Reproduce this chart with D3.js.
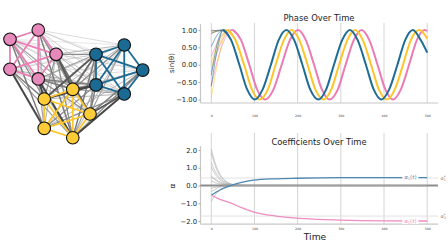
<!DOCTYPE html>
<html>
<head>
<meta charset="utf-8">
<script src="https://cdn.jsdelivr.net/npm/d3@7"></script>
<style>
  body { margin: 0; background: #fff; }
  svg { font-family: "DejaVu Sans", sans-serif; display: block; }
</style>
</head>
<body>
<div id="chart"></div>
<script>
// ---- network data (layout units) ----
const nodeCluster = ["pink","pink","pink","pink","pink",
                     "blue","blue","blue","blue","blue",
                     "yellow","yellow","yellow","yellow","yellow"];
const nodeX = [0, 2.13, 3.47, 0, 2.13,   8.61, 6.48, 10.0, 6.48, 8.61,   4.73, 2.58, 6.03, 2.58, 4.73];
const nodeY = [0.70, 0, 1.83, 2.96, 3.69, 1.13, 1.83, 3.02, 4.14, 4.82, 4.47, 5.20, 6.33, 7.41, 8.12];

// coupling strength between clusters (rows: first cluster's nodes)
const wPinkYellow = [
  [0.40, 0.50, 0.30, 0.60, 0.30],
  [0.50, 0.30, 0.40, 0.20, 0.60],
  [0.80, 0.45, 0.70, 0.30, 0.50],
  [0.30, 0.60, 0.20, 0.90, 0.40],
  [0.60, 0.90, 0.50, 0.40, 0.90]];
const wPinkBlue = [
  [0.10, 0.15, 0.05, 0.20, 0.10],
  [0.15, 0.20, 0.10, 0.10, 0.20],
  [0.30, 0.50, 0.20, 0.30, 0.20],
  [0.05, 0.20, 0.10, 0.30, 0.15],
  [0.20, 0.40, 0.15, 0.60, 0.30]];
const wBlueYellow = [
  [0.50, 0.30, 0.40, 0.20, 0.30],
  [0.70, 0.80, 0.50, 0.40, 0.60],
  [0.30, 0.20, 0.60, 0.30, 0.50],
  [0.80, 0.90, 0.60, 0.50, 0.40],
  [0.40, 0.30, 0.80, 0.50, 0.90]];

const nodeColor = {pink: "#e889bb", blue: "#1b6a93", yellow: "#fccb37"};
const edgeColorIn = {pink: "#ea7fb5", blue: "#1b6a93", yellow: "#fcc62c"};

// ---- phase data: [time, sin(theta)] ----
const timeTicks = [0, 100, 200, 300, 400, 500];
const blueSin = [[28,1],[46,0.71],[65,0],[83,-0.71],[101,-1],[119,-0.71],[138,0],[156,0.71],[174,1],
  [192,0.71],[211,0],[229,-0.71],[248,-1],[266,-0.71],[284,0],[303,0.71],[321,1],[339,0.71],[358,0],
  [376,-0.71],[394,-1],[412,-0.71],[431,0],[449,0.71],[467,1],[485,0.71],[500,0.35]];
const yellowSin = [[38,1],[56,0.71],[76,0],[94,-0.71],[112,-1],[131,-0.71],[149,0],[168,0.71],[186,1],
  [204,0.71],[223,0],[241,-0.71],[260,-1],[278,-0.71],[296,0],[315,0.71],[333,1],[351,0.71],[370,0],
  [388,-0.71],[407,-1],[425,-0.71],[444,0],[462,0.71],[482,1],[500,0.75]];
const pinkSin = [[50,1],[69,0.71],[88,0],[106,-0.71],[125,-1],[144,-0.71],[163,0],[182,0.71],[201,1],
  [219,0.71],[238,0],[256,-0.71],[274,-1],[293,-0.71],[311,0],[330,0.71],[348,1],[366,0.71],[385,0],
  [403,-0.71],[421,-1],[439,-0.71],[458,0],[476,0.71],[494,1],[500,0.97]];
// each node's value at t=0 and at a midpoint before it locks in
const blueStart = [0.97, 0.90, 0.52, -0.30, -0.62];
const blueMid = [0.99, 0.97, 0.86, 0.62, 0.45];
const yellowStart = [-0.95, 0.05, 0.90, 0.96, -0.10];
const yellowMid = [0.30, 0.72, 0.98, 0.99, 0.60];
const pinkStart = [-0.60, 0.25, 1.00, 0.92, -0.20];
const pinkMid = [0.55, 0.85, 0.97, 0.99, 0.70];

// ---- coefficient data ----
const alphaTimes = [0, 20, 43, 70, 97, 150, 197, 250, 300, 400, 500];
const alpha1 = [-0.55, -0.25, -0.02, 0.18, 0.30, 0.38, 0.41, 0.43, 0.44, 0.45, 0.45];
const alpha2 = [-0.55, -0.78, -0.96, -1.25, -1.48, -1.72, -1.84, -1.91, -1.95, -1.99, -2.00];
const alphaStar = [0.42, -1.72];
const greyTimes = [0, 10, 20, 30, 40, 55, 75, 500];
const greyLines = [
  [2.05, 1.20, 0.65, 0.32, 0.15, 0.05, 0.01, 0],
  [1.85, 1.05, 0.55, 0.28, 0.12, 0.04, 0.01, 0],
  [1.30, 0.75, 0.40, 0.20, 0.09, 0.03, 0.01, 0],
  [1.05, 0.60, 0.32, 0.15, 0.07, 0.02, 0, 0],
  [0.55, 0.30, 0.15, 0.07, 0.03, 0.01, 0, 0],
  [0.45, 0.35, 0.20, 0.10, 0.04, 0.01, 0, 0],
  [0.25, 0.15, 0.08, 0.04, 0.02, 0, 0, 0],
  [-0.15, -0.10, -0.05, -0.02, -0.01, 0, 0, 0],
  [-0.35, -0.20, -0.10, -0.05, -0.02, 0, 0, 0],
  [-0.90, -0.50, -0.25, -0.12, -0.05, -0.02, 0, 0]];

const lineColor = {blue: "#1f6d96", yellow: "#fdc52c", pink: "#e97cb4"};
const alphaColor = ["#4c87b2", "#ee8dc0"];

const svg = d3.select("#chart").append("svg")
    .attr("width", 448)
    .attr("height", 252);

// ================= network =================
const netX = d3.scaleLinear().domain([0, 10]).range([10, 142.7]);
const netY = d3.scaleLinear().domain([0, 10]).range([30, 162.7]);

const nodes = nodeX.map((v, i) => ({x: v, y: nodeY[i], c: nodeCluster[i]}));
let crossEdges = [];
function addCross(w, a, b) {
  w.forEach((row, i) => row.forEach((v, j) => crossEdges.push({s: a + i, t: b + j, w: v})));
}
addCross(wPinkYellow, 0, 10);
addCross(wPinkBlue, 0, 5);
addCross(wBlueYellow, 5, 10);
crossEdges.sort((a, b) => a.w - b.w);

let innerEdges = [];
nodes.forEach((n, i) => nodes.forEach((m, j) => {
  if (j > i && n.c === m.c) innerEdges.push({s: i, t: j, c: n.c});
}));

const edgeGrey = d3.scaleLinear().domain([0, 1]).range(["#e4e4e4", "#363636"]);
const edgeW = d3.scaleLinear().domain([0, 1]).range([0.4, 2.2]);

const net = svg.append("g").attr("class", "network");
net.selectAll("line.cross")
    .data(crossEdges)
    .enter().append("line")
    .attr("class", "cross")
    .attr("x1", d => netX(nodes[d.s].x)).attr("y1", d => netY(nodes[d.s].y))
    .attr("x2", d => netX(nodes[d.t].x)).attr("y2", d => netY(nodes[d.t].y))
    .attr("stroke", d => edgeGrey(d.w))
    .attr("stroke-width", d => edgeW(d.w));

net.selectAll("line.inner")
    .data(innerEdges)
    .enter().append("line")
    .attr("class", "inner")
    .attr("x1", d => netX(nodes[d.s].x)).attr("y1", d => netY(nodes[d.s].y))
    .attr("x2", d => netX(nodes[d.t].x)).attr("y2", d => netY(nodes[d.t].y))
    .attr("stroke", d => edgeColorIn[d.c])
    .attr("stroke-width", 1.8);

net.selectAll("circle")
    .data(nodes)
    .enter().append("circle")
    .attr("cx", d => netX(d.x)).attr("cy", d => netY(d.y))
    .attr("r", 6.3)
    .attr("fill", d => nodeColor[d.c])
    .attr("stroke", "#111")
    .attr("stroke-width", 1.1);

// ================= shared x =================
const x = d3.scaleLinear().domain([-25, 525]).range([200.5, 438]);

function drawFrame(g, yScale, gridTop, bottom, spineTop, ticks, fmt, labelPad) {
  g.append("g").selectAll("line")
      .data(timeTicks)
      .enter().append("line")
      .attr("x1", d => x(d)).attr("x2", d => x(d))
      .attr("y1", gridTop).attr("y2", bottom)
      .attr("stroke", "#d4d4d4")
      .attr("stroke-width", 1);

  // spines
  g.append("line")
      .attr("x1", x.range()[0]).attr("x2", x.range()[0])
      .attr("y1", spineTop).attr("y2", bottom)
      .attr("stroke", "#c8c8c8").attr("stroke-width", 1.2);
  g.append("line")
      .attr("x1", x.range()[0]).attr("x2", x.range()[1])
      .attr("y1", bottom).attr("y2", bottom)
      .attr("stroke", "#c8c8c8").attr("stroke-width", 1.2);

  const ya = g.append("g")
      .attr("transform", "translate(" + x.range()[0] + ",0)")
      .call(d3.axisLeft(yScale).tickValues(ticks).tickFormat(d3.format(fmt)).tickSize(2).tickPadding(1.5));
  ya.select(".domain").remove();
  ya.selectAll(".tick line").attr("stroke", "#aaa");
  ya.selectAll(".tick text").attr("font-size", 6.8).attr("fill", "#222")
      .attr("font-family", "DejaVu Sans");

  const xa = g.append("g")
      .attr("transform", "translate(0," + bottom + ")")
      .call(d3.axisBottom(x).tickValues(timeTicks).tickSize(0).tickPadding(labelPad));
  xa.select(".domain").remove();
  xa.selectAll(".tick text").attr("font-size", 3.2).attr("fill", "#444")
      .attr("font-family", "DejaVu Sans");
}

// ================= phase chart =================
const yT = d3.scaleLinear().domain([-1.1, 1.1]).range([103, 26.5]);
const phaseG = svg.append("g").attr("class", "phase");
drawFrame(phaseG, yT, 23, 103, 24, [-1, -0.5, 0, 0.5, 1], ".2f", 12);

phaseG.append("text")
    .attr("x", 319).attr("y", 20.5)
    .attr("text-anchor", "middle")
    .attr("font-size", 8.4).attr("fill", "#222")
    .text("Phase Over Time");
phaseG.append("text")
    .attr("transform", "translate(174,63) rotate(-90)")
    .attr("text-anchor", "middle")
    .attr("font-size", 7).attr("fill", "#222")
    .text("sin(θ)");

const phaseLine = d3.line()
    .x(d => x(d[0]))
    .y(d => yT(d[1]))
    .curve(d3.curveMonotoneX);

const phaseSets = [
  {c: "pink", main: pinkSin, start: pinkStart, mid: pinkMid},
  {c: "yellow", main: yellowSin, start: yellowStart, mid: yellowMid},
  {c: "blue", main: blueSin, start: blueStart, mid: blueMid}];

phaseSets.forEach(s => {
  const midT = s.main[0][0] / 2;
  s.start.forEach((v, i) => {
    phaseG.append("path")
        .datum([[0, v], [midT, s.mid[i]], s.main[0], s.main[1]])
        .attr("d", phaseLine)
        .attr("fill", "none")
        .attr("stroke", lineColor[s.c])
        .attr("stroke-opacity", 0.7)
        .attr("stroke-width", 0.8);
  });
});
phaseSets.forEach(s => {
  phaseG.append("path")
      .datum(s.main)
      .attr("d", phaseLine)
      .attr("fill", "none")
      .attr("stroke", lineColor[s.c])
      .attr("stroke-width", 2);
});

// ================= coefficient chart =================
const yB = d3.scaleLinear().domain([-2.18, 2.96]).range([224.2, 133]);
const coefG = svg.append("g").attr("class", "coef");
drawFrame(coefG, yB, 133, 224.2, 146, [-2, -1, 0, 1, 2], ".1f", 3.6);

coefG.append("text")
    .attr("x", 319).attr("y", 145)
    .attr("text-anchor", "middle")
    .attr("font-size", 8.4).attr("fill", "#222")
    .text("Coefficients Over Time");
coefG.append("text")
    .attr("x", 315).attr("y", 240)
    .attr("text-anchor", "middle")
    .attr("font-size", 9.2).attr("fill", "#222")
    .text("Time");
coefG.append("text")
    .attr("transform", "translate(175,186) rotate(-90)")
    .attr("text-anchor", "middle")
    .attr("font-size", 7.5).attr("fill", "#222")
    .text("α");

// reference lines
coefG.append("line")
    .attr("x1", x.range()[0]).attr("x2", x.range()[1])
    .attr("y1", yB(0)).attr("y2", yB(0))
    .attr("stroke", "#8c8c8c").attr("stroke-width", 1.8);
alphaStar.forEach(v => {
  coefG.append("line")
      .attr("x1", x.range()[0]).attr("x2", x.range()[1])
      .attr("y1", yB(v)).attr("y2", yB(v))
      .attr("stroke", "#e2e2e2").attr("stroke-width", 1);
});

const greyLine = d3.line()
    .x((d, i) => x(greyTimes[i]))
    .y(d => yB(d))
    .curve(d3.curveMonotoneX);
coefG.selectAll("path.grey")
    .data(greyLines)
    .enter().append("path")
    .attr("class", "grey")
    .attr("d", greyLine)
    .attr("fill", "none")
    .attr("stroke", "#a0a0a0")
    .attr("stroke-opacity", 0.75)
    .attr("stroke-width", 0.7);

const alphaLine = d3.line()
    .x((d, i) => x(alphaTimes[i]))
    .y(d => yB(d))
    .curve(d3.curveMonotoneX);
[alpha1, alpha2].forEach((a, k) => {
  coefG.append("path")
      .datum(a)
      .attr("d", alphaLine)
      .attr("fill", "none")
      .attr("stroke", alphaColor[k])
      .attr("stroke-width", 1.3);
});

// inline labels on the alpha curves
[alpha1, alpha2].forEach((a, k) => {
  const ly = yB(a[a.length - 1]);
  const lx = x(461);
  coefG.append("rect")
      .attr("x", lx - 8).attr("y", ly - 3)
      .attr("width", 16).attr("height", 6)
      .attr("fill", "#fff");
  const t = coefG.append("text")
      .attr("x", lx).attr("y", ly + 1.9)
      .attr("text-anchor", "middle")
      .attr("font-size", 5.5)
      .attr("fill", alphaColor[k]);
  t.append("tspan").attr("font-style", "italic").text("α");
  t.append("tspan").attr("font-size", 3.6).attr("dy", 1).text(k + 1);
  t.append("tspan").attr("dy", -1).text("(");
  t.append("tspan").attr("font-style", "italic").text("t");
  t.append("tspan").text(")");
});

// target value labels
alphaStar.forEach((v, k) => {
  const t = coefG.append("text")
      .attr("x", 440.5).attr("y", yB(v) + 1.8)
      .attr("font-size", 5)
      .attr("fill", "#777");
  t.append("tspan").attr("font-style", "italic").text("α");
  t.append("tspan").attr("font-size", 3.4).attr("dy", -1.8).text("*");
  t.append("tspan").attr("font-size", 3.4).attr("dx", -1.7).attr("dy", 3).text(k + 1);
});
</script>
</body>
</html>
